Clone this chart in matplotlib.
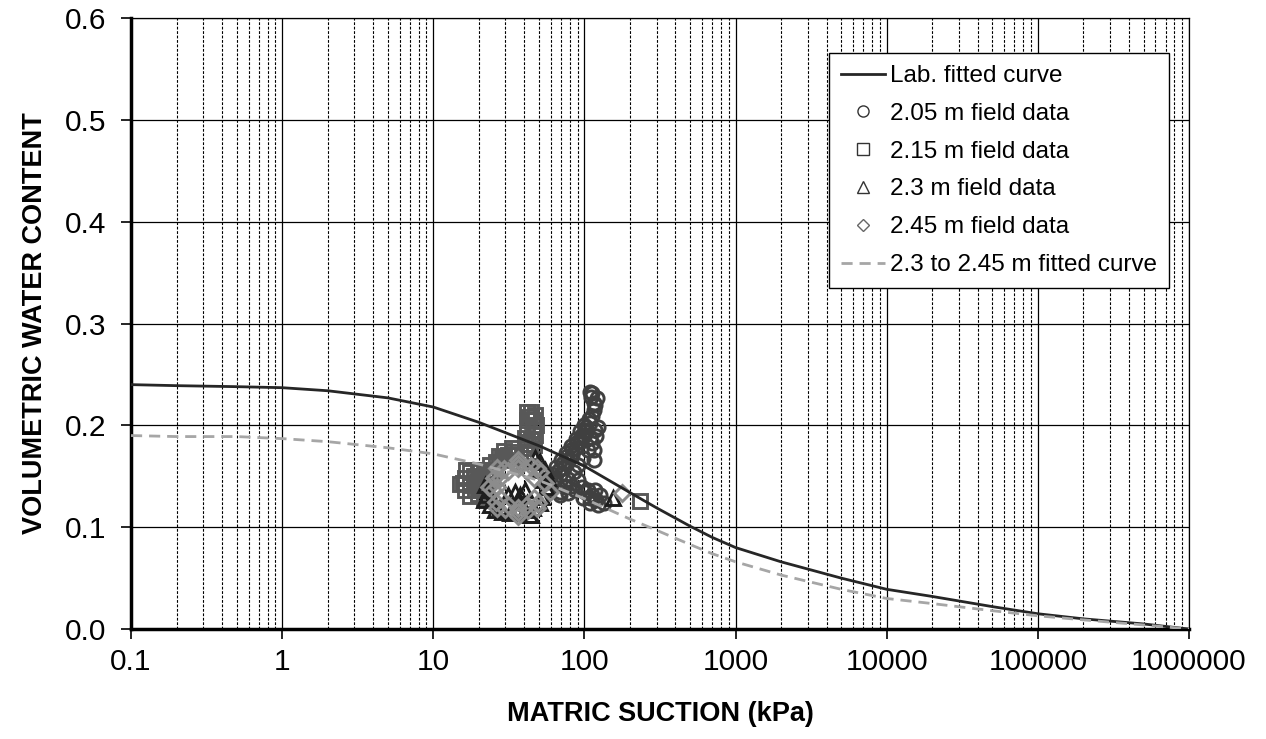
import matplotlib
matplotlib.use("Agg")
from matplotlib import pyplot as plt
from matplotlib.lines import Line2D
from matplotlib.ticker import LogLocator, NullFormatter, FixedLocator, FixedFormatter

plt.rcParams['font.family'] = ['Liberation Sans', 'DejaVu Sans']

# lab fitted curve (kPa, volumetric water content)
lab_suction = [0.1, 0.2, 0.5, 1, 2, 5, 10, 20, 50, 100, 200, 300, 500, 700, 1000, 2000, 5000,
               10000, 20000, 50000, 100000, 200000, 500000, 1000000]
lab_theta = [0.240, 0.239, 0.238, 0.237, 0.234, 0.227, 0.218, 0.203, 0.180, 0.160, 0.134, 0.119,
             0.101, 0.090, 0.080, 0.066, 0.050, 0.039, 0.032, 0.022, 0.015, 0.010, 0.005, 0.0]

# 2.3 to 2.45 m fitted curve
fit_suction = lab_suction
fit_theta = [0.190, 0.189, 0.189, 0.187, 0.184, 0.178, 0.172, 0.162, 0.146, 0.128, 0.108, 0.097,
             0.083, 0.074, 0.066, 0.053, 0.039, 0.030, 0.025, 0.018, 0.013, 0.009, 0.004, 0.0]

# field data
suction_205 = [58.5, 62.7, 69.0, 73.4, 78.1, 83.0, 88.3, 93.7, 99.6, 104, 109, 113, 115, 115, 111, 109,
               57, 61, 65, 70, 76, 82, 88, 94, 100,
               69, 74, 78, 85, 91, 98, 105, 113, 119, 122,
               63.5, 68, 72.5, 77, 83, 89.5, 96.5, 102, 107, 117, 109,
               115, 115, 118, 121, 113,
               69, 78, 87, 96, 105, 113, 119, 122, 109, 98, 91,
               74.5, 83, 101, 118, 127, 109, 135]
theta_205 = [0.137, 0.144, 0.151, 0.158, 0.165, 0.171, 0.178, 0.184, 0.190, 0.195, 0.202, 0.209, 0.215,
             0.222, 0.228, 0.233,
             0.144, 0.152, 0.159, 0.166, 0.173, 0.180, 0.187, 0.194, 0.200,
             0.135, 0.140, 0.147, 0.154, 0.161, 0.168, 0.176, 0.183, 0.190, 0.198,
             0.148, 0.156, 0.163, 0.170, 0.177, 0.184, 0.191, 0.198, 0.206, 0.195, 0.188,
             0.176, 0.166, 0.220, 0.227, 0.232,
             0.132, 0.134, 0.137, 0.139, 0.137, 0.132, 0.127, 0.122, 0.124, 0.129, 0.146,
             0.139, 0.140, 0.135, 0.137, 0.132, 0.129, 0.124]

suction_215 = [41.4, 44.6, 41.4, 45.4, 41.4, 45.4, 40.5, 44.6, 40.5, 43.7, 39.7, 37.5, 43.0, 42.5,
               47.2, 48.0, 47.2, 46.4,
               34.8, 31.0, 28.4, 25.9, 23.8, 22.4, 33.0, 29.5, 33.5, 29.9, 27.2, 24.7,
               16.2, 16.2, 17.5, 17.5, 17.5, 19.7, 19.7, 19.7, 22.4, 22.4, 21.5, 24.5, 15.0, 18.5, 20.5,
               15.6, 18.8, 21.0, 18.8, 21.0, 23.0, 16.5,
               234]
theta_215 = [0.213, 0.213, 0.205, 0.205, 0.197, 0.195, 0.188, 0.186, 0.178, 0.174, 0.168, 0.164, 0.208, 0.182,
             0.210, 0.200, 0.191, 0.181,
             0.171, 0.171, 0.168, 0.164, 0.161, 0.156, 0.178, 0.175, 0.174, 0.166, 0.170, 0.156,
             0.148, 0.137, 0.154, 0.141, 0.131, 0.156, 0.144, 0.133, 0.151, 0.139, 0.129, 0.146, 0.142,
             0.150, 0.138,
             0.143, 0.148, 0.148, 0.137, 0.137, 0.154, 0.156,
             0.126]

suction_230 = [22.0, 22.8, 23.8, 25.6, 21.5, 28.4, 32.2, 36.3, 40.5, 45.4, 50.9, 54.9, 50.9, 47.2,
               57.0, 55.7, 34.8, 37.5, 40.5, 36.3, 52.0, 44.0,
               24.5, 27.7, 41.4, 49.3, 53.5, 31.4, 43.7, 23.0,
               155]
theta_230 = [0.141, 0.132, 0.122, 0.117, 0.127, 0.115, 0.114, 0.115, 0.117, 0.119, 0.124, 0.156, 0.164,
             0.168, 0.148, 0.139, 0.135, 0.132, 0.137, 0.127, 0.130, 0.112,
             0.127, 0.120, 0.124, 0.156, 0.146, 0.132, 0.112, 0.137,
             0.129]

suction_245 = [36.3, 31.4, 27.7, 26.4, 27.7, 31.4, 36.3, 41.4, 46.2, 41.4, 46.2,
               36.3, 26.4, 23.4, 26.4, 36.3, 48.6, 48.6, 59.3,
               36.3, 29.3, 25.1, 24.7, 26.0, 30.0, 36.3, 42.5, 49.3, 44.0, 51.0, 55.0,
               177]
theta_245 = [0.158, 0.155, 0.148, 0.139, 0.129, 0.122, 0.119, 0.122, 0.129, 0.155, 0.148,
             0.166, 0.158, 0.139, 0.119, 0.111, 0.119, 0.158, 0.135,
             0.162, 0.157, 0.148, 0.137, 0.125, 0.118, 0.115, 0.117, 0.124, 0.160, 0.154, 0.143,
             0.134]

x_ticks = [0.1, 1, 10, 100, 1000, 10000, 100000, 1000000]
x_labels = ['0.1', '1', '10', '100', '1000', '10000', '100000', '1000000']

fig = plt.figure(figsize=(12.66, 7.39), dpi=100)
ax = fig.add_axes([0.1035, 0.1488, 0.8357, 0.8268])

mk = dict(linestyle='none', markerfacecolor='none', markersize=9.5, markeredgewidth=2.1)
ax.plot(suction_205, theta_205, marker='o', markeredgecolor='#404040', **mk, zorder=3)
ax.plot(suction_215, theta_215, marker='s', markeredgecolor='#585858', **mk, zorder=3)
ax.plot(suction_230, theta_230, marker='^', markeredgecolor='#1e1e1e', **mk, zorder=3)
ax.plot(suction_245, theta_245, marker='D', markeredgecolor='#8c8c8c', **{**mk, 'markersize': 8}, zorder=3)

ax.plot(lab_suction, lab_theta, color='#262626', lw=2.0, zorder=4)
ax.plot(fit_suction, fit_theta, color='#a6a6a6', lw=2.0, dashes=(4, 2.5), zorder=4)

ax.set_xscale('log')
ax.set_xlim(0.1, 1000000)
ax.set_ylim(0, 0.6)
ax.xaxis.set_major_locator(FixedLocator(x_ticks))
ax.xaxis.set_major_formatter(FixedFormatter(x_labels))
ax.xaxis.set_minor_locator(LogLocator(base=10, subs=range(2, 10), numticks=20))
ax.xaxis.set_minor_formatter(NullFormatter())
ax.set_yticks([0, 0.1, 0.2, 0.3, 0.4, 0.5, 0.6])
ax.set_yticklabels(['0.0', '0.1', '0.2', '0.3', '0.4', '0.5', '0.6'])

ax.grid(True, which='major', color='black', lw=0.9)
ax.grid(True, which='minor', axis='x', color='black', lw=0.8, dashes=(2.5, 1.5))
ax.set_axisbelow(True)

ax.tick_params(axis='both', which='major', labelsize=21.5, direction='out', length=7, width=1.2, pad=7)
ax.tick_params(axis='y', which='major', pad=11)
ax.tick_params(axis='x', which='minor', length=0)
for side in ['left', 'bottom']:
    ax.spines[side].set_linewidth(2.5)
for side in ['top', 'right']:
    ax.spines[side].set_linewidth(0.9)

ax.set_xlabel('MATRIC SUCTION (kPa)', fontsize=19.5, fontweight='bold', labelpad=18)
ax.set_ylabel('VOLUMETRIC WATER CONTENT', fontsize=19.5, fontweight='bold', labelpad=12)

handles = [
    Line2D([], [], color='#262626', lw=2.0),
    Line2D([], [], marker='o', ls='none', mfc='none', mec='#333333', ms=8, mew=1.0),
    Line2D([], [], marker='s', ls='none', mfc='none', mec='#333333', ms=8, mew=1.0),
    Line2D([], [], marker='^', ls='none', mfc='none', mec='#333333', ms=8, mew=1.0),
    Line2D([], [], marker='D', ls='none', mfc='none', mec='#666666', ms=6.5, mew=1.0),
    Line2D([], [], color='#a6a6a6', lw=2.0, dashes=(4, 2.5)),
]
labels = ['Lab. fitted curve', '2.05 m field data', '2.15 m field data', '2.3 m field data',
          '2.45 m field data', '2.3 to 2.45 m fitted curve']
leg = ax.legend(handles, labels, loc='upper right', bbox_to_anchor=(0.981, 0.943), fontsize=17.5,
                frameon=True, fancybox=False, edgecolor='black', framealpha=1, handlelength=1.8,
                handletextpad=0.2, labelspacing=0.65, borderaxespad=0, borderpad=0.5)
leg.get_frame().set_linewidth(1.0)

fig.savefig('out.png', dpi=100)
